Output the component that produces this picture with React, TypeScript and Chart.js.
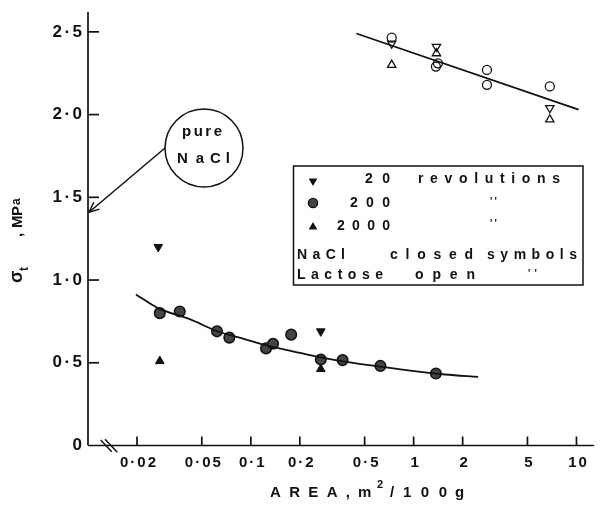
import React, { useEffect, useRef } from 'react';
import { Chart, registerables } from 'chart.js';

Chart.register(...registerables);

const FONT = '"Liberation Sans", Arial, sans-serif';

// Axis ticks
const xTickValues = [0.02, 0.05, 0.1, 0.2, 0.5, 1, 2, 5, 10];
const xTickLabels = ['0·02', '0·05', '0·1', '0·2', '0·5', '1', '2', '5', '10'];
const yTickValues = [0, 0.5, 1.0, 1.5, 2.0, 2.5];
const yTickLabels = ['0', '0·5', '1·0', '1·5', '2·0', '2·5'];

// NaCl (closed symbols)
const naclArea20 = [0.027, 0.269];
const naclStress20 = [1.2, 0.69];
const naclArea200 = [0.0276, 0.0366, 0.062, 0.0738, 0.124, 0.137, 0.177, 0.269, 0.366, 0.625, 1.37];
const naclStress200 = [0.8, 0.81, 0.69, 0.652, 0.587, 0.615, 0.67, 0.52, 0.516, 0.481, 0.435];
const naclArea2000 = [0.0276, 0.269];
const naclStress2000 = [0.51, 0.462];

// Lactose (open symbols)
const lacArea20 = [0.733, 1.38, 6.86];
const lacStress20 = [2.43, 2.41, 2.04];
const lacArea200 = [0.733, 1.41, 1.37, 2.82, 2.82, 6.86];
const lacStress200 = [2.465, 2.31, 2.29, 2.27, 2.18, 2.17];
const lacArea2000 = [0.733, 1.38, 6.86];
const lacStress2000 = [2.3, 2.37, 1.97];

// Fitted curves
const fitNaclArea = [0.0197, 0.0267, 0.0425, 0.0617, 0.0895, 0.13, 0.2, 0.273, 0.387, 0.616, 0.98, 1.56, 2.49];
const fitNaclStress = [0.913, 0.832, 0.762, 0.692, 0.646, 0.601, 0.56, 0.531, 0.505, 0.477, 0.451, 0.429, 0.415];
const fitLacArea = [0.445, 10.3];
const fitLacStress = [2.49, 2.03];

const pts = (xs: number[], ys: number[]) => xs.map((x, i) => ({ x, y: ys[i] }));

function line(ctx: CanvasRenderingContext2D, x1: number, y1: number, x2: number, y2: number) {
  ctx.beginPath();
  ctx.moveTo(x1, y1);
  ctx.lineTo(x2, y2);
  ctx.stroke();
}

function fitText(ctx: CanvasRenderingContext2D, text: string, x0: number, x1: number, y: number) {
  const chars = Array.from(text);
  const widths = chars.map((c) => ctx.measureText(c).width);
  const total = widths.reduce((a, b) => a + b, 0);
  const sp = chars.length > 1 ? (x1 - x0 - total) / (chars.length - 1) : 0;
  let x = x0;
  ctx.textAlign = 'left';
  chars.forEach((c, i) => {
    ctx.fillText(c, x, y);
    x += widths[i] + sp;
  });
}

function spacedText(
  ctx: CanvasRenderingContext2D,
  text: string,
  x: number,
  y: number,
  sp: number,
  align: 'left' | 'center' | 'right'
) {
  const chars = Array.from(text);
  const widths = chars.map((c) => ctx.measureText(c).width);
  const total = widths.reduce((a, b) => a + b, 0) + sp * (chars.length - 1);
  let cx = align === 'left' ? x : align === 'center' ? x - total / 2 : x - total;
  ctx.textAlign = 'left';
  chars.forEach((c, i) => {
    ctx.fillText(c, cx, y);
    cx += widths[i] + sp;
  });
}

function tri(ctx: CanvasRenderingContext2D, x: number, y: number, r: number, down: boolean) {
  const s = down ? -1 : 1;
  ctx.beginPath();
  ctx.moveTo(x, y - s * r);
  ctx.lineTo(x + r * 0.866, y + s * r * 0.5);
  ctx.lineTo(x - r * 0.866, y + s * r * 0.5);
  ctx.closePath();
  ctx.fill();
}

const decor = {
  id: 'decor',
  afterDraw(chart: any) {
    const ctx: CanvasRenderingContext2D = chart.ctx;
    const { left, right, top, bottom } = chart.chartArea;
    const xs = chart.scales.x;
    const ys = chart.scales.y;
    ctx.save();
    ctx.strokeStyle = '#111';
    ctx.fillStyle = '#111';
    ctx.lineWidth = 1.7;
    // axes
    line(ctx, left, top, left, bottom);
    line(ctx, left, bottom, right, bottom);
    yTickValues.forEach((v) => {
      if (v === 0) return;
      const py = ys.getPixelForValue(v);
      line(ctx, left, py, left + 11, py);
    });
    xTickValues.forEach((v) => {
      const px = xs.getPixelForValue(v);
      line(ctx, px, bottom, px, bottom - 9);
    });
    // tick labels
    ctx.textBaseline = 'middle';
    ctx.font = `bold 17px ${FONT}`;
    yTickValues.forEach((v, i) => {
      const py = ys.getPixelForValue(v);
      spacedText(ctx, yTickLabels[i], left - 6, py, 2.5, 'right');
    });
    ctx.font = `bold 15px ${FONT}`;
    xTickValues.forEach((v, i) => {
      const px = xs.getPixelForValue(v);
      spacedText(ctx, xTickLabels[i], px + 1, bottom + 17, 2, 'center');
    });
    // axis break
    ctx.lineWidth = 1.5;
    line(ctx, left + 12.7, bottom - 5.5, left + 23.7, bottom + 6.2);
    line(ctx, left + 17, bottom - 6.2, left + 29.3, bottom + 6.8);

    // legend box
    ctx.lineWidth = 1.5;
    ctx.strokeRect(293.5, 166, 289.5, 119);
    ctx.font = `bold 14px ${FONT}`;
    ctx.textBaseline = 'middle';
    tri(ctx, 313, 181, 5, true);
    ctx.beginPath();
    ctx.arc(313, 203, 4.6, 0, Math.PI * 2);
    ctx.fillStyle = '#444';
    ctx.fill();
    ctx.lineWidth = 1.4;
    ctx.stroke();
    ctx.fillStyle = '#111';
    tri(ctx, 313, 227, 5, false);
    fitText(ctx, '20', 365, 390, 179);
    fitText(ctx, 'revolutions', 418, 560, 179);
    fitText(ctx, '200', 350, 390, 203);
    fitText(ctx, '2000', 337, 390, 226);
    fitText(ctx, 'NaCl', 297, 345, 255);
    fitText(ctx, 'closed', 390, 473, 255);
    fitText(ctx, 'symbols', 487, 577, 255);
    fitText(ctx, 'Lactose', 297, 383, 275);
    fitText(ctx, 'open', 415, 475, 275);
    ctx.font = `bold 10px ${FONT}`;
    fitText(ctx, "''", 490, 497, 202);
    fitText(ctx, "''", 490, 497, 224);
    fitText(ctx, "''", 528, 537, 274);

    // pure NaCl callout
    ctx.lineWidth = 1.5;
    ctx.beginPath();
    ctx.arc(204, 148, 39, 0, Math.PI * 2);
    ctx.stroke();
    ctx.font = `bold 15px ${FONT}`;
    fitText(ctx, 'pure', 182, 222, 132);
    fitText(ctx, 'Na', 177, 204, 159);
    fitText(ctx, 'Cl', 210, 230, 159);
    const tipX = left + 1;
    const tipY = ys.getPixelForValue(1.41);
    const sx = 165, sy = 148;
    line(ctx, sx, sy, tipX, tipY);
    const ang = Math.atan2(sy - tipY, sx - tipX);
    const wl = 11;
    line(ctx, tipX, tipY, tipX + wl * Math.cos(ang - 0.42), tipY + wl * Math.sin(ang - 0.42));
    line(ctx, tipX, tipY, tipX + wl * Math.cos(ang + 0.42), tipY + wl * Math.sin(ang + 0.42));

    // y title
    ctx.save();
    ctx.translate(22, 240);
    ctx.rotate(-Math.PI / 2);
    ctx.textBaseline = 'alphabetic';
    ctx.font = `bold 18px ${FONT}`;
    ctx.textAlign = 'left';
    ctx.fillText('σ', -43, 0);
    ctx.font = `bold 12px ${FONT}`;
    ctx.fillText('t', -31, 6);
    ctx.font = `bold 15px ${FONT}`;
    ctx.fillText(',', 3, 0);
    fitText(ctx, 'MP', 12, 34, 0);
    ctx.font = `bold 12px ${FONT}`;
    ctx.fillText('a', 35, -2);
    ctx.restore();

    // x title
    ctx.textBaseline = 'alphabetic';
    ctx.font = `bold 15px ${FONT}`;
    fitText(ctx, 'AREA,', 270, 350, 497);
    fitText(ctx, 'm', 358, 375, 497);
    ctx.font = `bold 11px ${FONT}`;
    fitText(ctx, '2', 377, 385, 488);
    ctx.font = `bold 15px ${FONT}`;
    fitText(ctx, '/', 390, 396, 497);
    fitText(ctx, '100', 403, 447, 497);
    fitText(ctx, 'g', 455, 465, 497);
    ctx.restore();
  },
};

export default function App() {
  const ref = useRef<HTMLCanvasElement>(null);
  useEffect(() => {
    if (!ref.current) return;
    const black = '#111';
    const chart = new Chart(ref.current, {
      type: 'scatter',
      data: {
        datasets: [
          {
            label: 'NaCl fit',
            data: pts(fitNaclArea, fitNaclStress),
            showLine: true,
            borderColor: black,
            borderWidth: 1.8,
            pointRadius: 0,
            cubicInterpolationMode: 'monotone',
          },
          {
            label: 'Lactose fit',
            data: pts(fitLacArea, fitLacStress),
            showLine: true,
            borderColor: black,
            borderWidth: 1.8,
            pointRadius: 0,
          },
          {
            label: 'NaCl 20',
            data: pts(naclArea20, naclStress20),
            pointStyle: 'triangle',
            rotation: 180,
            pointRadius: 5,
            backgroundColor: black,
            borderColor: black,
            borderWidth: 1,
          },
          {
            label: 'NaCl 200',
            data: pts(naclArea200, naclStress200),
            pointStyle: 'circle',
            pointRadius: 5.3,
            backgroundColor: '#444',
            borderColor: black,
            borderWidth: 1.5,
          },
          {
            label: 'NaCl 2000',
            data: pts(naclArea2000, naclStress2000),
            pointStyle: 'triangle',
            pointRadius: 5,
            backgroundColor: black,
            borderColor: black,
            borderWidth: 1,
          },
          {
            label: 'Lactose 20',
            data: pts(lacArea20, lacStress20),
            pointStyle: 'triangle',
            rotation: 180,
            pointRadius: 4.8,
            backgroundColor: 'rgba(255,255,255,0)',
            borderColor: black,
            borderWidth: 1.3,
          },
          {
            label: 'Lactose 200',
            data: pts(lacArea200, lacStress200),
            pointStyle: 'circle',
            pointRadius: 4.5,
            backgroundColor: 'rgba(255,255,255,0)',
            borderColor: black,
            borderWidth: 1.3,
          },
          {
            label: 'Lactose 2000',
            data: pts(lacArea2000, lacStress2000),
            pointStyle: 'triangle',
            pointRadius: 4.8,
            backgroundColor: 'rgba(255,255,255,0)',
            borderColor: black,
            borderWidth: 1.3,
          },
        ],
      },
      options: {
        animation: false,
        responsive: false,
        maintainAspectRatio: false,
        layout: { padding: { top: 12, left: 0, right: 0, bottom: 0 } },
        plugins: { legend: { display: false }, tooltip: { enabled: false } },
        scales: {
          x: {
            type: 'logarithmic',
            min: 0.01,
            max: 12.85,
            afterFit: (s: any) => {
              s.height = 59.5;
            },
            afterBuildTicks: (s: any) => {
              s.ticks = xTickValues.map((v) => ({ value: v }));
            },
            ticks: { display: false, autoSkip: false, maxRotation: 0, minRotation: 0 },
            grid: { display: false, drawTicks: false },
            border: { display: false },
          },
          y: {
            type: 'linear',
            min: 0,
            max: 2.62,
            afterFit: (s: any) => {
              s.width = 88;
            },
            afterBuildTicks: (s: any) => {
              s.ticks = yTickValues.map((v) => ({ value: v }));
            },
            ticks: { display: false, autoSkip: false },
            grid: { display: false, drawTicks: false },
            border: { display: false },
          },
        },
      },
      plugins: [decor],
    } as any);
    return () => chart.destroy();
  }, []);
  return (
    <div style={{ position: 'fixed', left: 0, top: 0, width: 601, height: 505, background: '#fff' }}>
      <canvas ref={ref} width={601} height={505} style={{ display: 'block' }} />
    </div>
  );
}
